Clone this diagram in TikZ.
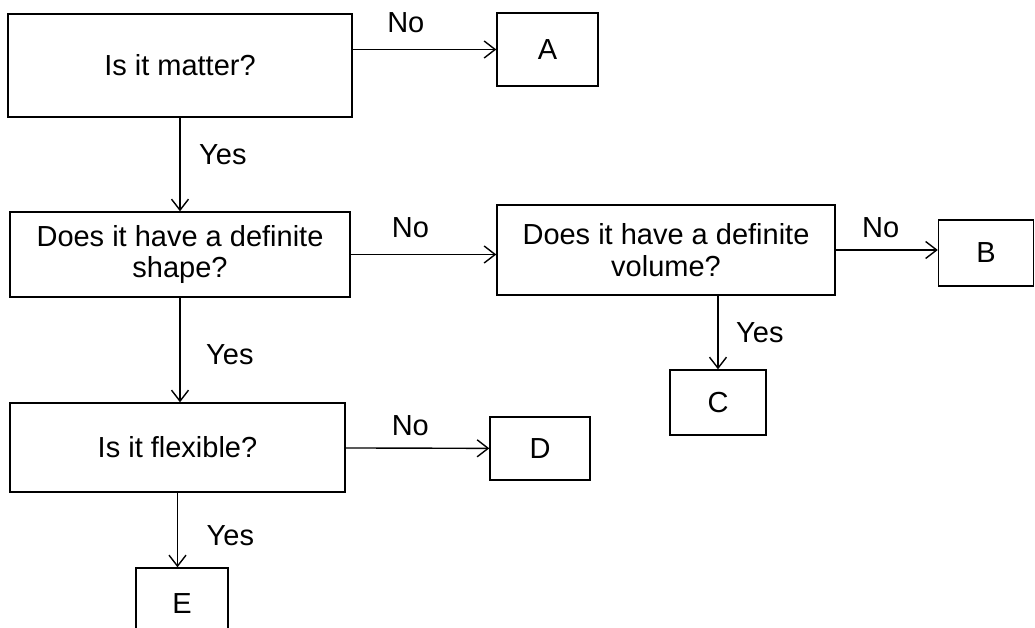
\documentclass[tikz,border=0pt]{standalone}
\usepackage{fontspec}
\setmainfont{Liberation Sans}
\usetikzlibrary{arrows.meta}

\begin{document}
\begin{tikzpicture}[
	x=0.02cm, y=-0.02cm,
	font=\fontsize{16.5}{18}\selectfont,
	box/.style={draw, line width=0.8pt, align=center, inner sep=0pt},
	arr/.style={line width=0.8pt, -{Straight Barb[length=0.22cm, width=0.34cm]}},
	lab/.style={inner sep=2pt}
	]
	\useasboundingbox (0,0) rectangle (1035,628);

	\node[box, minimum width=344*0.02cm, minimum height=103*0.02cm] (matter) at (180,65.5) {Is it matter?};
	\node[box, minimum width=101*0.02cm, minimum height=73*0.02cm] (A) at (547.5,49.5) {A};
	\node[box, minimum width=340*0.02cm, minimum height=85*0.02cm] (shape) at (180,254.5) {Does it have a definite\\shape?};
	\node[box, minimum width=338*0.02cm, minimum height=90*0.02cm] (volume) at (666,250) {Does it have a definite\\volume?};
	\node[box, minimum width=95*0.02cm, minimum height=66*0.02cm] (B) at (986,253) {B};
	\node[box, minimum width=96*0.02cm, minimum height=65*0.02cm] (C) at (718,402.5) {C};
	\node[box, minimum width=335*0.02cm, minimum height=89*0.02cm] (flexible) at (177.5,447.5) {Is it flexible?};
	\node[box, minimum width=100*0.02cm, minimum height=63*0.02cm] (D) at (540,448.5) {D};
	\node[box, minimum width=92*0.02cm, minimum height=72*0.02cm, text depth=0pt] (E) at (182,604) {E};

	\draw[arr] (matter.east |- A) -- node[lab, pos=.37, above=0.24cm] {No} (A.west);
	\draw[arr] (matter) -- node[lab, pos=.4, right=0.3cm] {Yes} (shape);
	\draw[arr] (shape) -- node[lab, pos=.41, above=0.26cm] {No} (shape -| volume.west);
	\draw[arr] (volume.east) -- node[lab, pos=.44, above=0.16cm] {No} (volume.east -| B.west);
	\draw[arr] (C |- volume.south) -- node[lab, pos=.5, right=0.28cm] {Yes} (C.north);
	\draw[arr] (shape.south) -- node[lab, pos=.54, right=0.44cm] {Yes} (shape.south |- flexible.north);
	\draw[arr] (flexible) -- node[lab, pos=.45, above=0.16cm] {No} (D);
	\draw[arr] (flexible.south) -- node[lab, pos=.58, right=0.5cm] {Yes} (flexible.south |- E.north);
\end{tikzpicture}
\end{document}
